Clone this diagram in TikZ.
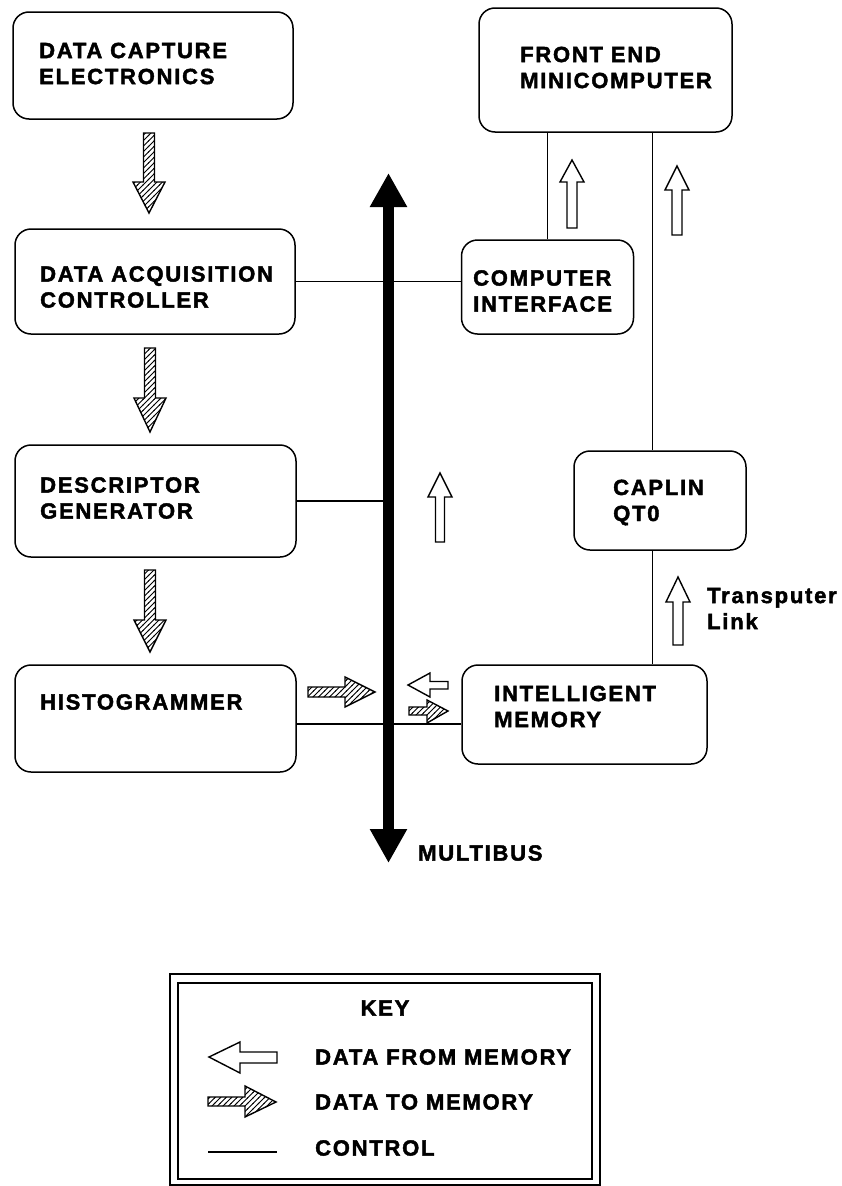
\documentclass[tikz,border=0pt]{standalone}
\usepackage{fontspec}
\setmainfont{Liberation Sans}[LetterSpace=8, BoldFeatures={FakeBold=2}]
\usetikzlibrary{arrows.meta,patterns}

% hatching fixed on the page, "/" direction
\pgfdeclarepatternformonly{hatch}{\pgfqpoint{-1pt}{-1pt}}{\pgfqpoint{6.5pt}{6.5pt}}{\pgfqpoint{5.5pt}{5.5pt}}{
	\pgfsetlinewidth{1pt}
	\pgfpathmoveto{\pgfqpoint{-0.5pt}{-0.5pt}}
	\pgfpathlineto{\pgfqpoint{6pt}{6pt}}
	\pgfusepath{stroke}
}

\begin{document}
\begin{tikzpicture}[x=1pt,y=1pt,yscale=-1,
	unit/.style={draw, line width=1.5pt, rounded corners=16pt, inner sep=0pt},
	lbl/.style={anchor=west, inner sep=0pt, align=left, font=\fontsize{22}{26}\selectfont\bfseries},
	ctrl/.style={line width=1.4pt},
	hatched/.style={draw, line width=1.4pt, pattern=hatch},
	hollow/.style={draw, line width=1.4pt, fill=white}]
	\useasboundingbox (0,0) rectangle (842,1186);
	
	% Units
	\node[unit, minimum width=280pt, minimum height=107pt] (dce) at (153,65.5) {};
	\node[unit, minimum width=280pt, minimum height=105pt] (dac) at (155,281.5) {};
	\node[unit, minimum width=281pt, minimum height=112pt] (dg) at (155.5,501) {};
	\node[unit, minimum width=281pt, minimum height=107pt] (hist) at (155.5,718.5) {};
	\node[unit, minimum width=253pt, minimum height=124pt] (fe) at (605.5,70) {};
	\node[unit, minimum width=172pt, minimum height=94pt] (ci) at (547.5,287) {};
	\node[unit, minimum width=172pt, minimum height=99pt] (cap) at (660,500.5) {};
	\node[unit, minimum width=245pt, minimum height=99pt] (im) at (584.5,714.5) {};
	
	% Labels
	\node[lbl] (dcetxt) at (39,63.5) {DATA CAPTURE\\ELECTRONICS};
	\node[lbl] (dactxt) at (40,287) {DATA ACQUISITION\\CONTROLLER};
	\node[lbl] (dgtxt) at (40,498) {DESCRIPTOR\\GENERATOR};
	\node[lbl] (histtxt) at (40,702) {HISTOGRAMMER};
	\node[lbl] (fetxt) at (520,67.5) {FRONT END\\MINICOMPUTER};
	\node[lbl] (citxt) at (473,291) {COMPUTER\\INTERFACE};
	\node[lbl] (captxt) at (613,502.5) {CAPLIN\\QT0};
	\node[lbl] (imtxt) at (494,706.5) {INTELLIGENT\\MEMORY};
	\node[lbl] (linktxt) at (707,608.5) {Transputer\\Link};
	\node[lbl] (bustxt) at (418,853) {MULTIBUS};
	
	% Control lines
	\coordinate (histbus) at (296,724);
	\coordinate (link) at (652.5,0);
	\draw[ctrl] (dac.east) -- (dac.east -| ci.west);
	\draw[ctrl] (dg.east) -- (dg.east -| 388.5,0);
	\draw[ctrl] (hist.east |- histbus) -- (im.west |- histbus);
	\draw[ctrl] (ci.north) -- (ci.north |- fe.south);
	\draw[ctrl] (fe.south -| link) -- (cap.north -| link);
	\draw[ctrl] (cap.south -| link) -- (im.north -| link);
	
	% Multibus
	\coordinate (bustop) at (388.5,173);
	\coordinate (busbot) at (388.5,863);
	\draw[line width=11pt, {Triangle[length=34pt,width=35pt]}-{Triangle[length=34pt,width=35pt]}] (busbot) -- (bustop);
	
	% Down Arrows (data to memory)
	\draw[hatched] (143.5,133) -- (154.5,133) -- (154.5,182) -- (165,182) -- (149,213) -- (133,182) -- (143.5,182) -- cycle;
	\draw[hatched] (144.5,348) -- (155.5,348) -- (155.5,398) -- (166,398) -- (150,432) -- (134,398) -- (144.5,398) -- cycle;
	\draw[hatched] (144.5,570) -- (155.5,570) -- (155.5,620) -- (166,620) -- (150,652) -- (134,620) -- (144.5,620) -- cycle;
	
	% Right Arrows at the bus
	\draw[hatched] (308,687) -- (345,687) -- (345,677) -- (375,692) -- (345,707) -- (345,697) -- (308,697) -- cycle;
	\draw[hatched] (409,707) -- (427,707) -- (427,700) -- (448,711) -- (427,723) -- (427,715) -- (409,715) -- cycle;
	\draw[hollow] (408,685) -- (430,673) -- (430,681.5) -- (448,681.5) -- (448,689) -- (430,689) -- (430,697) -- cycle;
	
	% Up Arrows (data from memory)
	\draw[hollow] (572,160) -- (584,182) -- (577,182) -- (577,228) -- (567,228) -- (567,182) -- (560,182) -- cycle;
	\draw[hollow] (677,166) -- (689,190) -- (682,190) -- (682,235) -- (672,235) -- (672,190) -- (665,190) -- cycle;
	\draw[hollow] (440,473) -- (452,497) -- (444.5,497) -- (444.5,542) -- (435.5,542) -- (435.5,497) -- (428,497) -- cycle;
	\draw[hollow] (678,577) -- (690,602) -- (683,602) -- (683,645) -- (673,645) -- (673,602) -- (666,602) -- cycle;
	
	% Key
	\draw[line width=2pt] (170,974) rectangle (600,1185);
	\draw[line width=1.5pt] (178,983) rectangle (592,1179);
	\node[lbl, anchor=center] (keytxt) at (385,1008) {KEY};
	\draw[hollow] (209,1057) -- (240,1042) -- (240,1052) -- (277,1052) -- (277,1063) -- (240,1063) -- (240,1073) -- cycle;
	\draw[hatched] (208,1097) -- (245,1097) -- (245,1086) -- (276,1102) -- (245,1117) -- (245,1106) -- (208,1106) -- cycle;
	\draw[ctrl] (208,1152) -- (277,1152);
	\node[lbl] (fromtxt) at (315,1057) {DATA FROM MEMORY};
	\node[lbl] (totxt) at (315,1102) {DATA TO MEMORY};
	\node[lbl] (ctrltxt) at (315,1148) {CONTROL};
\end{tikzpicture}
\end{document}
